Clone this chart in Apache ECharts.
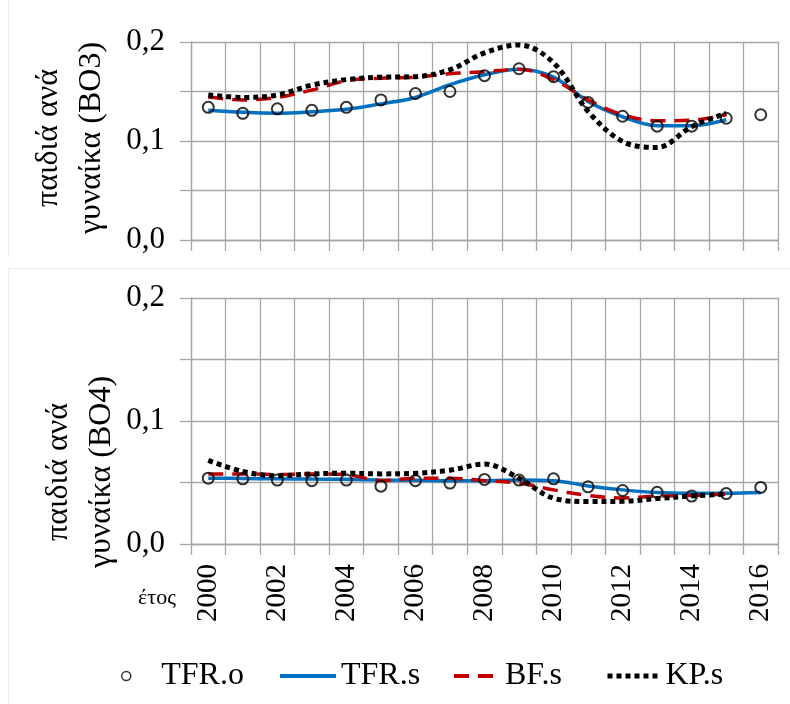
<!DOCTYPE html>
<html>
<head>
<meta charset="utf-8">
<script src="https://cdn.jsdelivr.net/npm/echarts@6/dist/echarts.min.js"></script>
<style>html,body{margin:0}#c{width:790px;height:704px}</style>
</head>
<body>
<div id="c"></div>
<script>
// ---- Data ----
var years = ['2000','2001','2002','2003','2004','2005','2006','2007','2008','2009','2010','2011','2012','2013','2014','2015','2016'];
var yTickLabels = ['0,0','0,1','0,2'];

// Panel BO3
var tfrO3 = [0.134, 0.128, 0.1325, 0.131, 0.134, 0.1415, 0.148, 0.150, 0.166, 0.173, 0.165, 0.139, 0.125, 0.115, 0.115, 0.123, 0.1265];
var tfrS3 = [0.131, 0.129, 0.128, 0.1295, 0.132, 0.1375, 0.144, 0.157, 0.167, 0.1725, 0.1645, 0.140, 0.1245, 0.1155, 0.1155, 0.1215, null];
var bfS3  = [0.1445, 0.1415, 0.144, 0.1515, 0.161, 0.1635, 0.1645, 0.168, 0.170, 0.1725, 0.162, 0.1415, 0.1265, 0.1205, 0.121, 0.1265, null];
var kpS3  = [0.1465, 0.144, 0.1465, 0.1565, 0.162, 0.1645, 0.165, 0.172, 0.189, 0.197, 0.179, 0.130, 0.0995, 0.0935, 0.1145, 0.128, null];

// Panel BO4
var tfrO4 = [0.0535, 0.053, 0.052, 0.0515, 0.052, 0.047, 0.0515, 0.0495, 0.0525, 0.052, 0.053, 0.0465, 0.0435, 0.042, 0.039, 0.041, 0.046];
var tfrS4 = [0.0535, 0.0533, 0.053, 0.0528, 0.0526, 0.052, 0.0518, 0.0515, 0.0515, 0.052, 0.0515, 0.0472, 0.044, 0.0418, 0.0412, 0.0412, 0.0418];
var bfS4  = [0.057, 0.057, 0.0565, 0.057, 0.0565, 0.0515, 0.0535, 0.0535, 0.0515, 0.0495, 0.044, 0.0395, 0.0375, 0.039, 0.0395, 0.0405, null];
var kpS4  = [0.068, 0.059, 0.0555, 0.057, 0.0575, 0.057, 0.0575, 0.060, 0.065, 0.0535, 0.0372, 0.0345, 0.0347, 0.0369, 0.039, 0.0405, null];

var names = ['TFR.o', 'TFR.s', 'BF.s', 'KP.s'];
var yNames = ['παιδιά ανά\nγυναίκα (BO3)', 'παιδιά ανά\nγυναίκα (BO4)'];
var xName = 'έτος';

// ---- Styles ----
var FONT = 'Liberation Serif';
var GRID_C = '#a6a6a6';
var BLUE = '#0070c0', RED = '#c00000', BLACK = '#000000';

function xAxisCfg(idx, showLabel) {
  return {
    type: 'category', gridIndex: idx, data: years, boundaryGap: true,
    axisLine: {show: true, lineStyle: {color: GRID_C, width: 1.3}},
    axisTick: {show: true, interval: 0, length: 11, lineStyle: {color: GRID_C, width: 1.3}},
    splitLine: {show: true, interval: 0, lineStyle: {color: GRID_C, width: 1.3}},
    axisLabel: {show: showLabel, interval: 1, rotate: 90, margin: 20,
      fontSize: 29, fontFamily: FONT, color: '#000'}
  };
}
function yAxisCfg(idx) {
  return {
    type: 'value', gridIndex: idx, min: 0, max: 0.2, interval: 0.05,
    axisLine: {show: true, lineStyle: {color: GRID_C, width: 1.3}},
    axisTick: {show: true, length: 11, lineStyle: {color: GRID_C, width: 1.3}},
    splitLine: {show: true, lineStyle: {color: GRID_C, width: 1.3}},
    axisLabel: {margin: 26, fontSize: 31, fontFamily: FONT, color: '#000',
      formatter: function (v) {
        var k = Math.round(v * 10);
        if (Math.abs(v * 10 - k) < 1e-6) return yTickLabels[k];
        return '';
      }}
  };
}
function lineS(name, data, idx, color, width, dash) {
  return {
    name: name, type: 'line', xAxisIndex: idx, yAxisIndex: idx, data: data,
    smooth: 0.35, symbol: 'none', connectNulls: false,
    lineStyle: {color: color, width: width, type: dash, cap: 'butt'},
    itemStyle: {color: color}, z: 3
  };
}
function scatterS(name, data, idx) {
  return {
    name: name, type: 'scatter', xAxisIndex: idx, yAxisIndex: idx, data: data,
    symbol: 'circle', symbolSize: 11,
    itemStyle: {color: 'rgba(0,0,0,0)', borderColor: BLACK, borderWidth: 2}, z: 5
  };
}
var DOT = [5, 4];
var DASH = [15, 9];

var legendText = {fontSize: 32, fontFamily: FONT, color: '#000'};
var HIDE_SYM = {color: 'rgba(0,0,0,0)', borderColor: 'rgba(0,0,0,0)', borderWidth: 0};
function legendCfg(name, left, w, lw) {
  return {
    left: left, top: 655, itemWidth: w, itemHeight: 12, itemGap: 0,
    data: [name], textStyle: legendText, selectedMode: false,
    itemStyle: HIDE_SYM, lineStyle: {width: lw}
  };
}

var option = {
  animation: false,
  backgroundColor: '#fff',
  grid: [
    {left: 191, right: 12, top: 42, height: 198},
    {left: 191, right: 12, top: 298, height: 246}
  ],
  xAxis: [xAxisCfg(0, false), xAxisCfg(1, true)],
  yAxis: [yAxisCfg(0), yAxisCfg(1)],
  legend: [
    {left: 116, top: 655, itemWidth: 10, itemHeight: 9, itemGap: 0, selectedMode: false,
      data: [{name: names[0], icon: 'circle', itemStyle: {color: 'rgba(0,0,0,0)', borderColor: '#000', borderWidth: 1.5}}],
      textStyle: {fontSize: 32, fontFamily: FONT, color: '#000', padding: [0, 0, 0, 25]}},
    legendCfg(names[1], 273, 56, 4),
    legendCfg(names[2], 447, 46, 4),
    legendCfg(names[3], 600, 53, 5)
  ],
  graphic: [
    {type: 'text', x: 70, y: 138, rotation: Math.PI / 2,
      style: {text: yNames[0], fontSize: 32, fontFamily: FONT, fill: '#000',
        align: 'center', verticalAlign: 'middle', lineHeight: 43}},
    {type: 'text', x: 80, y: 472, rotation: Math.PI / 2,
      style: {text: yNames[1], fontSize: 32, fontFamily: FONT, fill: '#000',
        align: 'center', verticalAlign: 'middle', lineHeight: 43}},
    {type: 'text', x: 157, y: 598,
      style: {text: xName, fontSize: 22, fontFamily: FONT, fill: '#000',
        align: 'center', verticalAlign: 'middle'}},
    {type: 'line', shape: {x1: 8.5, y1: 0, x2: 8.5, y2: 257}, style: {stroke: '#ebebeb', lineWidth: 1}, silent: true},
    {type: 'line', shape: {x1: 8.5, y1: 268.5, x2: 790, y2: 268.5}, style: {stroke: '#ebebeb', lineWidth: 1}, silent: true},
    {type: 'line', shape: {x1: 8.5, y1: 268.5, x2: 8.5, y2: 704}, style: {stroke: '#ebebeb', lineWidth: 1}, silent: true}
  ],
  series: [
    lineS(names[1], tfrS3, 0, BLUE, 3.5, 'solid'),
    lineS(names[2], bfS3, 0, RED, 3.5, DASH),
    lineS(names[3], kpS3, 0, BLACK, 5, DOT),
    scatterS(names[0], tfrO3, 0),
    lineS(names[1], tfrS4, 1, BLUE, 3.5, 'solid'),
    lineS(names[2], bfS4, 1, RED, 3.5, DASH),
    lineS(names[3], kpS4, 1, BLACK, 5, DOT),
    scatterS(names[0], tfrO4, 1)
  ]
};

var chart = echarts.init(document.getElementById('c'));
chart.setOption(option);
</script>
</body>
</html>
